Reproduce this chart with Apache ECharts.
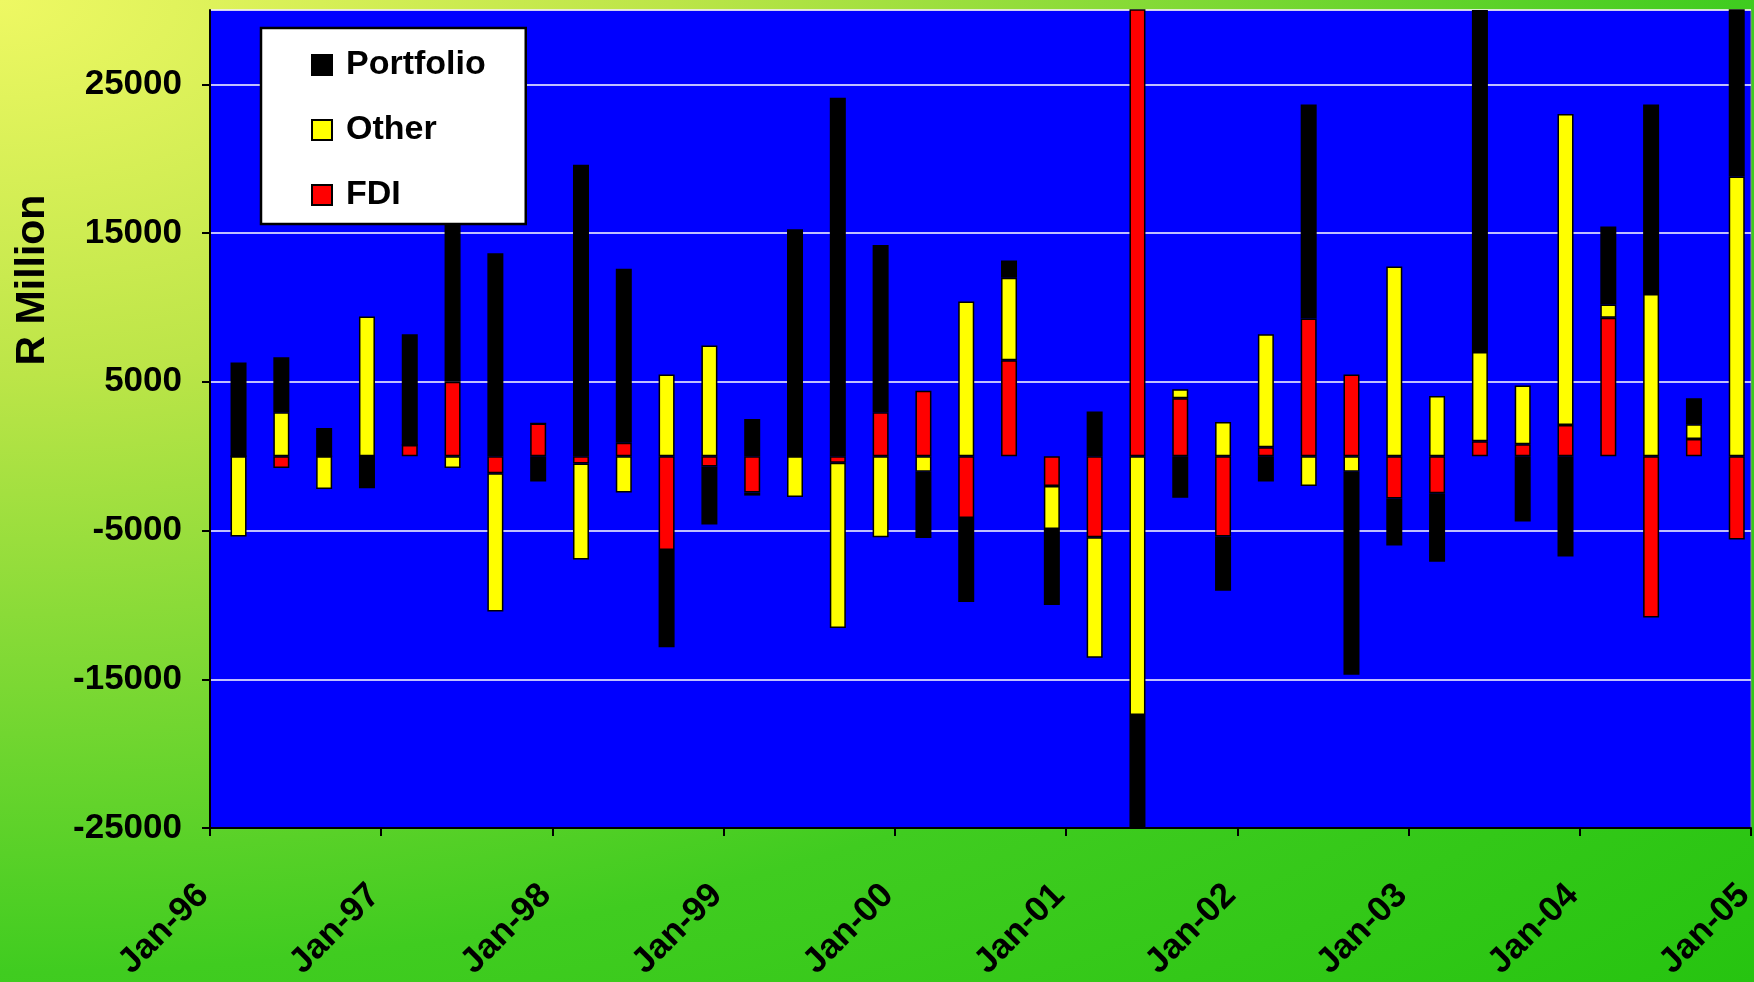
<!DOCTYPE html>
<html>
<head>
<meta charset="utf-8">
<script src="https://cdn.jsdelivr.net/npm/echarts@6/dist/echarts.min.js"></script>
<style>
html,body{margin:0;padding:0;}
#c{width:1754px;height:982px;background:radial-gradient(ellipse farthest-corner at 0 0,#eef863 0%,#bce548 27%,#40cc20 70%,#26c410 100%);}
</style>
</head>
<body>
<div id="c"></div>
<script>
// Quarter (bar) dates
const quarters = [
  'Mar-96','Jun-96','Sep-96','Dec-96','Mar-97','Jun-97','Sep-97','Dec-97',
  'Mar-98','Jun-98','Sep-98','Dec-98','Mar-99','Jun-99','Sep-99','Dec-99',
  'Mar-00','Jun-00','Sep-00','Dec-00','Mar-01','Jun-01','Sep-01','Dec-01',
  'Mar-02','Jun-02','Sep-02','Dec-02','Mar-03','Jun-03','Sep-03','Dec-03',
  'Mar-04','Jun-04','Sep-04','Dec-04'
];
// R Million
const fdi = [
  0, -800, 0, 0, 750, 5000, -1150, 2200,
  -500, 900, -6300, -700, -2450, 0, -450, 2950,
  4400, -4150, 6450, -2000, -5450, 33000, 3900, -5400,
  600, 9250, 5500, -2850, -2500, 1000, 800, 2100,
  9300, -10850, 1150, -5600
];
const other = [
  -5400, 2950, -2200, 9400, 0, -800, -9300, 0,
  -6450, -2450, 5500, 7450, -200, -2750, -11100, -5450,
  -1050, 10400, 5550, -2900, -8100, -17400, 600, 2300,
  7600, -2000, -1050, 12750, 4050, 6000, 3950, 20900,
  900, 10900, 1000, 18800
];
const portfolio = [
  6300, 3700, 1900, -2150, 7450, 12500, 13650, -1700,
  19600, 11700, -6550, -3900, 2500, 15250, 24100, 11250,
  -4450, -5650, 1150, -5100, 3000, -10000, -2800, -3650,
  -1700, 14400, -13650, -3150, -4600, 23000, -4400, -6750,
  5250, 12750, 1750, 12500
];
const monthNames = ['Jan','Feb','Mar','Apr','May','Jun','Jul','Aug','Sep','Oct','Nov','Dec'];
const yearLabels = ['96','97','98','99','00','01','02','03','04'];
const lastLabel = 'Jan-05';
const yTicks = [-25000, -15000, -5000, 5000, 15000, 25000];

// monthly date axis (categories), bars sit on their quarter month
const months = [];
yearLabels.forEach(function (yy) {
  monthNames.forEach(function (m) { months.push(m + '-' + yy); });
});
months.push(lastLabel);

function toMonthly(values) {
  return months.map(function (m) {
    const i = quarters.indexOf(m);
    return i >= 0 ? values[i] : null;
  });
}

const FONT = '"Liberation Sans", Arial, sans-serif';
const chart = echarts.init(document.getElementById('c'), null, {renderer: 'canvas'});

function barSeries(name, values, color) {
  return {
    name: name,
    type: 'bar',
    stack: 'flows',
    barWidth: 16,
    data: toMonthly(values),
    itemStyle: {color: color, borderColor: '#000000', borderWidth: 1.5}
  };
}

chart.setOption({
  backgroundColor: 'transparent',
  textStyle: {fontFamily: FONT},
  animation: false,
  grid: {
    left: 210, right: 3, top: 10, bottom: 154,
    show: true, backgroundColor: '#0000ff', borderColor: '#8a8a8a', borderWidth: 1,
    containLabel: false,
    outerBoundsMode: 'none'
  },
  legend: {
    data: ['Portfolio', 'Other', 'FDI'],
    orient: 'vertical',
    left: 261, top: 28,
    backgroundColor: '#ffffff',
    borderColor: '#000000', borderWidth: 2.5,
    padding: [17, 40, 9, 50],
    itemGap: 25,
    itemWidth: 20, itemHeight: 20,
    icon: 'rect',
    selectedMode: false,
    textStyle: {fontSize: 34, fontWeight: 'bold', color: '#000', fontFamily: FONT,
      lineHeight: 40, padding: [0, 0, 0, 9]}
  },
  graphic: [{
    type: 'text',
    x: 33, y: 280,
    rotation: Math.PI / 2,
    style: {
      text: 'R Million', fontSize: 41, fontWeight: 'bold', fontFamily: FONT,
      fill: '#000', align: 'center', verticalAlign: 'middle'
    }
  }],
  xAxis: {
    type: 'category',
    data: months,
    boundaryGap: false,
    axisLine: {onZero: false, lineStyle: {color: '#000', width: 2}},
    axisTick: {interval: 11, length: 8, lineStyle: {color: '#000', width: 2}},
    axisLabel: {
      interval: 11, rotate: 45, margin: 55,
      formatter: function (v) { return v + ' '; },
      fontSize: 35, fontWeight: 'bold', color: '#000', fontFamily: FONT
    },
    splitLine: {show: false}
  },
  yAxis: {
    type: 'value',
    min: yTicks[0], max: 30000, interval: 10000,
    axisLine: {show: true, lineStyle: {color: '#000', width: 2}},
    axisTick: {show: true, length: 8, lineStyle: {color: '#000', width: 2}},
    axisLabel: {
      showMaxLabel: false, margin: 28,
      formatter: function (v) { return String(v); },
      fontSize: 35, fontWeight: 'bold', color: '#000', fontFamily: FONT
    },
    splitLine: {lineStyle: {color: '#ffffff', width: 1.5}}
  },
  series: [
    barSeries('FDI', fdi, '#ff0000'),
    barSeries('Other', other, '#ffff00'),
    barSeries('Portfolio', portfolio, '#000000')
  ]
});
</script>
</body>
</html>
